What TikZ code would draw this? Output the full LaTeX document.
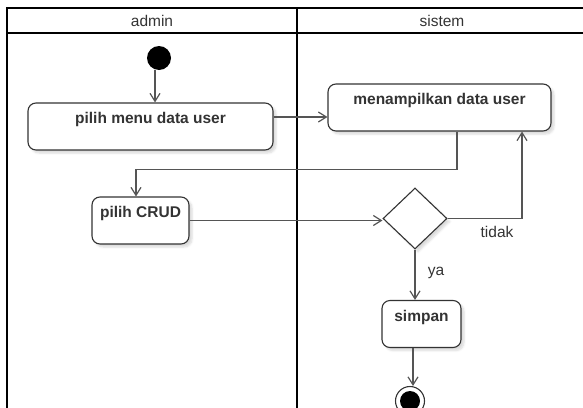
\documentclass[tikz,border=0pt]{standalone}
\usepackage{fontspec}
\setmainfont{Liberation Sans}
\usetikzlibrary{arrows.meta,shapes.geometric,shadows.blur}
\definecolor{ink}{HTML}{333333}
\definecolor{wire}{HTML}{555555}
\begin{document}
\begin{tikzpicture}[x=1pt,y=-1pt,
  lane/.style={line width=1.8pt, draw=black},
  soft/.style={blur shadow={shadow xshift=3pt, shadow yshift=-3pt, shadow opacity=15, shadow blur steps=6}},
  act/.style={draw=ink, line width=1.1pt, rounded corners=8pt, fill=white,
    minimum width=#1, minimum height=47pt, inner sep=0pt,
    text height=20.5pt, text depth=26.5pt, soft,
    font=\fontsize{15.5}{18}\selectfont\bfseries, text=ink},
  flow/.style={draw=wire, line width=1.2pt,
    -{Straight Barb[length=8pt,width=10pt,line width=1.2pt]}},
  tag/.style={font=\fontsize{15.5}{18}\selectfont, text=ink, inner sep=0pt},
]
\useasboundingbox (0,0) rectangle (583,407);
\clip (0,0) rectangle (583,407);

% swimlanes
\draw[lane] (7,8) rectangle (640,440);
\draw[lane] (7,33) -- (640,33);
\draw[lane] (297,8) -- (297,440);
\node[tag] (h1) at (152,21) {admin};
\node[tag] (h2) at (442,21) {sistem};

% activity nodes
\node[circle, fill=black, minimum size=24pt, inner sep=0pt] (start) at (159,58) {};
\node[act=245pt] (b1) at (150.5,126.5) {pilih menu data user};
\node[act=223pt] (b2) at (439.5,107.5) {menampilkan data user};
\node[act=97pt]  (b3) at (140.5,220.5) {pilih CRUD};
\node[diamond, draw=ink, line width=1.1pt, fill=white, soft,
      minimum width=64pt, minimum height=61pt, inner sep=0pt] (d) at (415,218.5) {};
\node[act=79pt]  (s) at (421.5,324) {simpan};
\node[circle, draw=ink, line width=1.1pt, fill=white, minimum size=29pt, inner sep=0pt] (end) at (410,401) {};
\fill[black] (end.center) circle (10pt);

% control flow
\draw[flow] ([xshift=-4pt]start.south) -- ([xshift=-4pt]start.south |- b1.north);
\draw[flow] (b1.east |- 0,117) -- (b2.west |- 0,117);
\draw[flow] ([xshift=17.5pt]b2.south) -- ++(0,38) -| ([xshift=-4.5pt]b3.north);
\draw[flow] (b3.east) -- (b3.east -| d.west);
\draw[flow] (d.east) -| ([xshift=82.5pt]b2.south);
\draw[flow] (d.south) -- (d.south |- s.north);
\draw[flow] ([xshift=3pt]s.south -| end.north) -- ([xshift=3pt]end.north);

\node[tag] (tdk) at (497,232) {tidak};
\node[tag] (ya) at (436,273) {ya};
\end{tikzpicture}
\end{document}
